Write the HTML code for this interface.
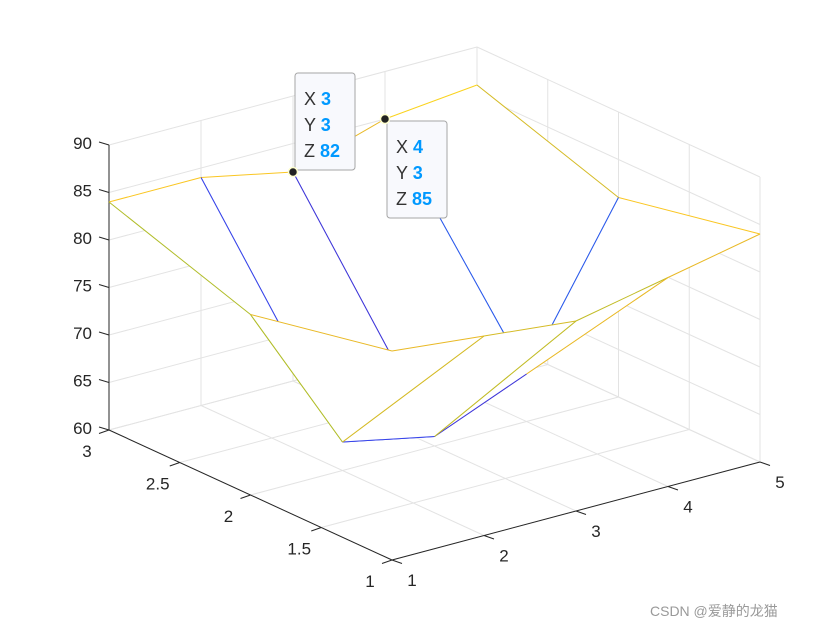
<!DOCTYPE html>
<html><head><meta charset="utf-8"><style>
html,body{margin:0;padding:0;background:#fff;}
svg text{font-family:"Liberation Sans","Noto Sans CJK SC",sans-serif;}
</style></head><body>
<svg id="chart" width="840" height="630" xmlns="http://www.w3.org/2000/svg">
<g id="grid"></g>
<g id="axes"></g>
<g id="mesh"></g>
<g id="tips"></g>
<text x="650" y="616" font-size="14" fill="#999">CSDN @爱静的龙猫</text>
</svg>
<script>
const xVals = [1, 2, 3, 4, 5];
const yVals = [1, 2, 3];
const zRow1 = [82, 81, 80, 82, 84];
const zRow2 = [79, 63, 61, 65, 81];
const zRow3 = [84, 84, 82, 85, 86];
const xTicks = [1, 2, 3, 4, 5];
const yTicks = [1, 1.5, 2, 2.5, 3];
const zTicks = [60, 65, 70, 75, 80, 85, 90];
const tipX = [3, 4];
const tipY = [3, 3];
const tipZ = [82, 85];

const Z = [zRow1, zRow2, zRow3];
const NS = "http://www.w3.org/2000/svg";
function P(x, y, z) {
  return [392 + (x - 1) * 92 - (y - 1) * 141.5, 560 - (x - 1) * 24.5 - (y - 1) * 65 - (z - 60) * 9.5];
}
function mk(tag, attrs, parent) {
  const e = document.createElementNS(NS, tag);
  for (const k in attrs) e.setAttribute(k, attrs[k]);
  parent.appendChild(e);
  return e;
}
function line(a, b, color, w, parent) {
  return mk('line', {x1: a[0], y1: a[1], x2: b[0], y2: b[1], stroke: color, 'stroke-width': w}, parent);
}
const grid = document.getElementById('grid');
const axes = document.getElementById('axes');
const gc = '#e3e3e3';
xTicks.forEach(x => { const l = line(P(x, 1, 60), P(x, 3, 60), gc, 1, grid);

 });
yTicks.forEach(y => { const l = line(P(1, y, 60), P(5, y, 60), gc, 1, grid);

 });
xTicks.forEach(x => { const l = line(P(x, 3, 60), P(x, 3, 90), gc, 1, grid);

 });
zTicks.forEach(z => { const l = line(P(1, 3, z), P(5, 3, z), gc, 1, grid);

 });
yTicks.forEach(y => { const l = line(P(5, y, 60), P(5, y, 90), gc, 1, grid);

 });
zTicks.forEach(z => { const l = line(P(5, 1, z), P(5, 3, z), gc, 1, grid);

 });
const ac = '#262626';
let ax = line(P(1, 1, 60), P(5, 1, 60), ac, 1, axes);


ax = line(P(1, 1, 60), P(1, 3, 60), ac, 1, axes);


ax = line(P(1, 3, 60), P(1, 3, 90), ac, 1, axes);


xTicks.forEach(x => {
  const p = P(x, 1, 60);
  line(p, [p[0] + 10, p[1] + 3.5], ac, 1, axes);
  const t = mk('text', {x: p[0] + 20, y: p[1] + 26, 'font-size': 17, fill: ac, 'text-anchor': 'middle'}, axes);
  t.textContent = x;
  
  
});
yTicks.forEach(y => {
  const p = P(1, y, 60);
  line(p, [p[0] - 10, p[1] + 3.5], ac, 1, axes);
  const t = mk('text', {x: p[0] - 22, y: p[1] + 27, 'font-size': 17, fill: ac, 'text-anchor': 'middle'}, axes);
  t.textContent = y;
  
  
});
zTicks.forEach(z => {
  const p = P(1, 3, z);
  line(p, [p[0] - 10, p[1] - 3], ac, 1, axes);
  const t = mk('text', {x: p[0] - 17, y: p[1] + 4, 'font-size': 17, fill: ac, 'text-anchor': 'end'}, axes);
  t.textContent = z;
  
  
});
const stops = [[0.25,0.22,0.85],[0.2,0.3,0.95],[0.1,0.5,0.85],[0.05,0.62,0.8],[0.2,0.72,0.63],[0.55,0.75,0.2],[0.74,0.74,0.15],[0.98,0.72,0.15],[0.98,0.88,0.1]];
const zAll = Z.flat(); const zmin = Math.min(...zAll), zmax = Math.max(...zAll);
function color(z) {
  let t = (z - zmin) / (zmax - zmin); t = Math.max(0, Math.min(1, t)) * (stops.length - 1);
  const i = Math.min(stops.length - 2, Math.floor(t)), f = t - i;
  const c = stops[i].map((v, k) => Math.round(255 * (v + (stops[i + 1][k] - v) * f)));
  return `rgb(${c[0]},${c[1]},${c[2]})`;
}
const mesh = document.getElementById('mesh');
const quads = [];
for (let j = 0; j < yVals.length - 1; j++) for (let i = 0; i < xVals.length - 1; i++) quads.push([i, j]);
quads.sort((a, b) => ((b[0] / 4) + (b[1] / 2)) - ((a[0] / 4) + (a[1] / 2)));
quads.forEach(([i, j]) => {
  const c = [[i, j], [i + 1, j], [i + 1, j + 1], [i, j + 1]];
  const pts = c.map(([a, b]) => P(xVals[a], yVals[b], Z[b][a]));
  const g = mk('g', {}, mesh);
  
  
  mk('polygon', {points: pts.map(p => p.join(',')).join(' '), fill: '#fff'}, g);
  for (let k = 0; k < 4; k++) {
    const a = c[k], b = c[(k + 1) % 4];
    const ci = Math.min(a[0], b[0]), cj = Math.min(a[1], b[1]);
    const l = line(pts[k], pts[(k + 1) % 4], color(Z[cj][ci]), 1, g);
    
    
  }
});
const tips = document.getElementById('tips');
const boxOff = [[2, -99], [2, 2]];
tipX.forEach((x, k) => {
  const p = P(x, tipY[k], tipZ[k]);
  const g = mk('g', {}, tips);
  
  
  const bx = p[0] + boxOff[k][0], by = p[1] + boxOff[k][1];
  mk('rect', {x: bx, y: by, width: 60, height: 97, rx: 3, fill: '#f8f9fd', stroke: '#a6a6a6', 'stroke-width': 1}, g);
  [['X', x], ['Y', tipY[k]], ['Z', tipZ[k]]].forEach((r, m) => {
    const t = mk('text', {x: bx + 9, y: by + 32 + m * 26, 'font-size': 18, fill: '#333'}, g);
    t.textContent = r[0] + ' ';
    const s = mk('tspan', {fill: '#0099ff', 'font-weight': 'bold'}, t);
    s.textContent = r[1];
  });
  mk('circle', {cx: p[0], cy: p[1], r: 4.5, fill: '#222', stroke: '#ffffd0', 'stroke-width': 1.5}, g);
});
</script>
</body></html>
